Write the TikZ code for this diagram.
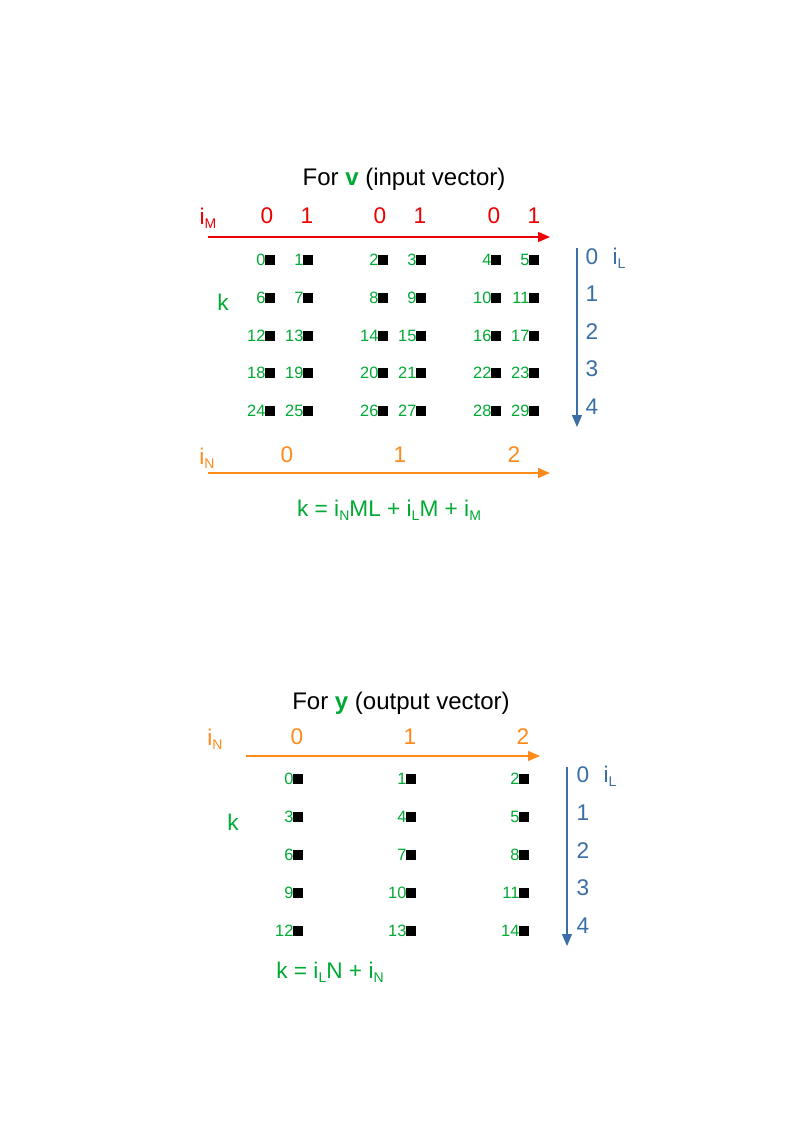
\documentclass[tikz,border=0pt]{standalone}
\usepackage{fontspec}
\setmainfont{Liberation Sans}
\usetikzlibrary{arrows.meta}
\definecolor{idxred}{HTML}{EE0000}
\definecolor{idxgreen}{HTML}{00A933}
\definecolor{idxorange}{HTML}{FF8A1A}
\definecolor{idxblue}{HTML}{3A6EA5}
\newcommand\lowidx[1]{\raisebox{-0.3ex}{\fontsize{10.5}{11}\selectfont #1}}
\tikzset{
  cell/.style={fill=black, inner sep=0pt, minimum size=6.8pt},
  num/.style={text=idxgreen, font=\fontsize{12.3}{13}\selectfont, inner sep=0pt,
    text height=8.8pt, text depth=0pt, label distance=-0.4pt},
  big/.style={font=\fontsize{17}{19}\selectfont, inner sep=0pt},
  title/.style={font=\fontsize{18}{20}\selectfont, inner sep=0pt},
  axis/.style={line width=0.9pt, -{Triangle[length=9pt,width=7.5pt]}}
}
\begin{document}
\begin{tikzpicture}[x=0.75pt, y=-0.75pt]
        \useasboundingbox (0,0) rectangle (794,1123);
        % input vector
        \node[title] (vtitle) at (404, 179) {For \textcolor{idxgreen}{\textbf{v}} (input vector)};
        \node[big, text=idxred] (iM) at (208, 218) {i\lowidx{M}};
        \foreach \Lab/\x in {0/267, 1/307, 0/380, 1/420, 0/494, 1/534}{
          \node[big, text=idxred] at (\x, 216) {\Lab};
        }
        \coordinate (mstart) at (208, 237);
        \coordinate (mend) at (550, 237);
        \draw[axis, idxred] (mstart) -- (mend);
        \foreach \c/\x in {0/270, 1/308, 2/383, 3/421, 4/496, 5/534}{
          \foreach \r/\y in {0/260, 1/298, 2/336, 3/373, 4/411}{
            \pgfmathtruncatemacro\k{\r*6+\c}
            \node[cell, label={[num]left:\k}] (v\k) at (\x, \y) {};
          }
        }
        \node[big, text=idxgreen] (vk) at (223, 302) {k};
        \coordinate (lstart) at (577, 248);
        \coordinate (lend) at (577, 427);
        \draw[axis, idxblue] (lstart) -- (lend);
        \foreach \Lab/\y in {0/257, 1/294, 2/332, 3/369, 4/407}{
          \node[big, text=idxblue] at (592, \y) {\Lab};
        }
        \node[big, text=idxblue] (iL) at (619, 258) {i\lowidx{L}};
        \node[big, text=idxorange] (iN) at (207, 458) {i\lowidx{N}};
        \foreach \Lab/\x in {0/287, 1/400, 2/514}{
          \node[big, text=idxorange] at (\x, 455) {\Lab};
        }
        \coordinate (nstart) at (208, 473);
        \coordinate (nend) at (550, 473);
        \draw[axis, idxorange] (nstart) -- (nend);
        \node[big, text=idxgreen] (vform) at (389, 510) {k = i\lowidx{N}ML + i\lowidx{L}M + i\lowidx{M}};
        % output vector
        \node[title] (ytitle) at (401, 703) {For \textcolor{idxgreen}{\textbf{y}} (output vector)};
        \node[big, text=idxorange] (yiN) at (215, 739) {i\lowidx{N}};
        \foreach \Lab/\x in {0/297, 1/410, 2/523}{
          \node[big, text=idxorange] at (\x, 737) {\Lab};
        }
        \coordinate (ynstart) at (246, 756);
        \coordinate (ynend) at (540, 756);
        \draw[axis, idxorange] (ynstart) -- (ynend);
        \foreach \c/\x in {0/298, 1/411, 2/524}{
          \foreach \r/\y in {0/779, 1/817, 2/855, 3/893, 4/931}{
            \pgfmathtruncatemacro\k{\r*3+\c}
            \node[cell, label={[num]left:\k}] (y\k) at (\x, \y) {};
          }
        }
        \node[big, text=idxgreen] (yk) at (233, 822) {k};
        \coordinate (ylstart) at (567, 767);
        \coordinate (ylend) at (567, 946);
        \draw[axis, idxblue] (ylstart) -- (ylend);
        \foreach \Lab/\y in {0/775, 1/813, 2/851, 3/888, 4/926}{
          \node[big, text=idxblue] at (583, \y) {\Lab};
        }
        \node[big, text=idxblue] (yiL) at (610, 776) {i\lowidx{L}};
        \node[big, text=idxgreen] (yform) at (330, 972) {k = i\lowidx{L}N + i\lowidx{N}};
\end{tikzpicture}
\end{document}
